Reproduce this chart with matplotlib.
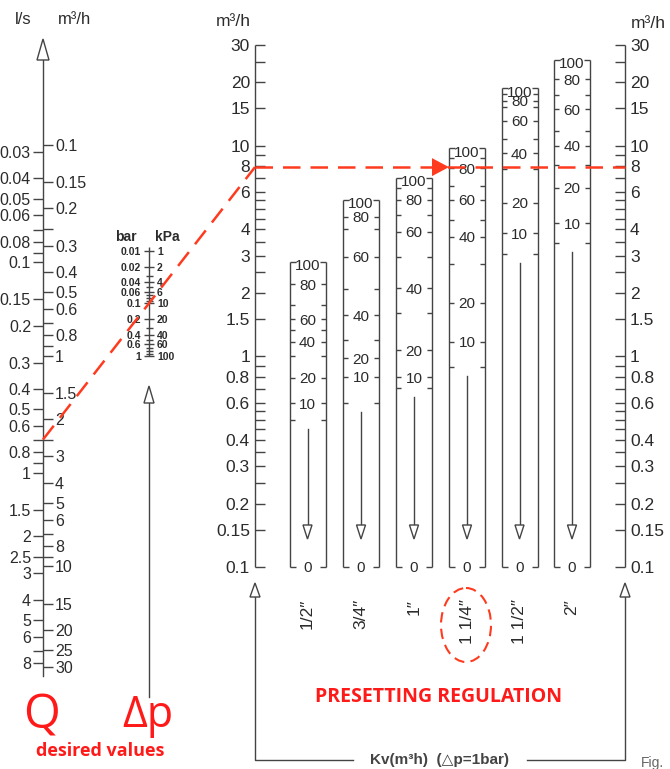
import numpy as np
import matplotlib
matplotlib.use('Agg')
import matplotlib.pyplot as plt
from matplotlib.patches import Polygon, Ellipse

plt.rcParams['font.family'] = ['Liberation Sans', 'DejaVu Sans']

# ---- values ----
kv_labeled = [30, 20, 15, 10, 8, 6, 4, 3, 2, 1.5, 1, 0.8, 0.6, 0.4, 0.3, 0.2, 0.15, 0.1]
kv_minor = [25, 9, 7, 5.5, 5, 4.5, 3.5, 2.5, 0.9, 0.7, 0.55, 0.5, 0.45, 0.35, 0.25]

q_m3h_labeled = [0.1, 0.15, 0.2, 0.3, 0.4, 0.5, 0.6, 0.8, 1, 1.5, 2, 3, 4, 5, 6, 8,
                 10, 15, 20, 25, 30]
q_m3h_minor = [0.25, 0.7, 0.9, 2.5, 7, 9]
q_ls_labeled = [0.03, 0.04, 0.05, 0.06, 0.08, 0.1, 0.15, 0.2, 0.3, 0.4, 0.5, 0.6, 0.8,
                1, 1.5, 2, 2.5, 3, 4, 5, 6, 8]
q_ls_minor = [0.07, 0.09, 0.7, 0.9, 7]

dp_bar_labeled = [0.01, 0.02, 0.04, 0.06, 0.1, 0.2, 0.4, 0.6, 1]
dp_kpa_labels = ['1', '2', '4', '6', '10', '20', '40', '60', '100']
dp_bar_minor = [0.03, 0.05, 0.07, 0.08, 0.09, 0.3, 0.5, 0.7, 0.8, 0.9]

valve_sizes = ['1/2″', '3/4″', '1″', '1 1/4″', '1 1/2″', '2″']
presets = [100, 90, 80, 70, 60, 50, 40, 30, 20, 10, 5]
preset_labeled = [100, 80, 60, 40, 20, 10]
# Kv (m3/h) of each presetting mark, per valve size (nan = no mark)
kv_half = [2.80, np.nan, 2.20, 1.75, 1.50, 1.33, 1.17, 1.00, 0.79, 0.60, 0.50]
kv_three_quarter = [5.52, np.nan, 4.60, 4.01, 2.97, 2.08, 1.57, 1.19, 0.98, 0.80, 0.60]
kv_one = [7.04, 6.31, 5.52, 4.68, 3.90, 2.95, 2.10, 1.61, 1.07, 0.795, 0.705]
kv_one_quarter = [9.71, 8.70, 7.80, 6.45, 5.52, 4.44, 3.69, 2.74, 1.80, 1.17, 0.89]
kv_one_half = [18.7, 17.5, 16.3, 15.2, 13.1, 10.8, 9.19, 7.74, 5.36, 3.84, 3.05]
kv_two = [25.5, np.nan, 20.6, 17.4, 14.9, 11.7, 9.99, 8.09, 6.31, 4.28, 3.46]
valve_kv = [kv_half, kv_three_quarter, kv_one, kv_one_quarter, kv_one_half, kv_two]

# worked example drawn in red
q_example = 2.5      # m3/h
dp_example = 0.1     # bar
kv_example = q_example / np.sqrt(dp_example)
selected_valve = 3   # 1 1/4"

# ---- layout ----
W, H = 670, 769
PX_DEC = 210.7            # pixels per decade on the flow scales
X_Q, X_DP, X_KVL, X_KVR = 43, 149, 255, 625
col_x = [307.5, 361, 414, 467, 519.5, 572]
HALF_W = 18

LINE = '#444444'
TXT = '#2b2b2b'
RED = '#ff3b1f'
RED_TXT = '#ff1a1a'
LW = 1.0

fig = plt.figure(figsize=(W / 100, H / 100), dpi=100)
fig.patch.set_facecolor('white')


def overlay(ylim, log=True):
    a = fig.add_axes([0, 0, 1, 1])
    a.set_xlim(0, W)
    if log:
        a.set_yscale('log')
    a.set_ylim(*ylim)
    a.axis('off')
    a.patch.set_alpha(0)
    return a


ax_kv = overlay((0.1 * 10 ** ((567 - H) / PX_DEC), 0.1 * 10 ** (567 / PX_DEC)))
ax_q = overlay((0.1 * 10 ** ((H - 145) / PX_DEC), 0.1 * 10 ** (-145 / PX_DEC)))
ax_dp = overlay((10 ** ((H - 356) / (PX_DEC / 4)), 10 ** (-356 / (PX_DEC / 4))))
ax_px = overlay((H, 0), log=False)


def py(ax, v):
    disp = ax.transData.transform((0, v))
    return ax_px.transData.inverted().transform(disp)[1]


def open_arrow(x, apex, base, half):
    ax_px.add_patch(Polygon([(x, apex), (x - half, base), (x + half, base)], closed=True,
                            fc='white', ec=LINE, lw=LW, zorder=3))


fmt = lambda v: '%g' % v

# ---- Q scale (left) ----
open_arrow(X_Q, 39, 60, 6)
ax_px.plot([X_Q, X_Q], [60, py(ax_q, 30) + 9], color=LINE, lw=LW)
ax_q.hlines(q_m3h_labeled + q_m3h_minor, X_Q, X_Q + 10, color=LINE, lw=LW)
ax_q.hlines(np.array(q_ls_labeled + q_ls_minor) * 3.6, X_Q - 10, X_Q, color=LINE, lw=LW)
for v in q_m3h_labeled:
    ax_q.text(X_Q + 12, v, fmt(v), ha='left', va='center_baseline', fontsize=11.5, color=TXT)
for v in q_ls_labeled:
    ax_q.text(X_Q - 12, v * 3.6, fmt(v), ha='right', va='center_baseline', fontsize=11.5,
              color=TXT)
ax_px.text(23, 20, 'l/s', ha='center', va='center', fontsize=12, color=TXT)
ax_px.text(75, 20, 'm³/h', ha='center', va='center', fontsize=12, color=TXT)

# ---- Δp scale ----
ax_dp.vlines(X_DP, 0.0085, 1.0, color=LINE, lw=LW)
ax_dp.hlines(dp_bar_labeled, X_DP - 5, X_DP + 5, color=LINE, lw=LW)
ax_dp.hlines(dp_bar_minor, X_DP - 3.5, X_DP + 3.5, color=LINE, lw=LW)
for v, k in zip(dp_bar_labeled, dp_kpa_labels):
    ax_dp.text(X_DP - 8, v, fmt(v), ha='right', va='center_baseline', fontsize=7.5,
               fontweight='bold', color=TXT)
    ax_dp.text(X_DP + 8, v, k, ha='left', va='center_baseline', fontsize=7.5,
               fontweight='bold', color=TXT)
ax_px.text(126, 237, 'bar', ha='center', va='center', fontsize=10, fontweight='bold', color=TXT)
ax_px.text(167, 237, 'kPa', ha='center', va='center', fontsize=10, fontweight='bold', color=TXT)
open_arrow(X_DP, 386, 403, 5)
ax_px.plot([X_DP, X_DP], [403, 697], color=LINE, lw=LW)

# ---- Kv scales ----
for x, d, ha, lx in [(X_KVL, 10, 'right', X_KVL - 5), (X_KVR, -10, 'left', X_KVR + 5)]:
    ax_kv.vlines(x, 0.1, 30, color=LINE, lw=LW)
    ax_kv.hlines(kv_labeled + kv_minor, min(x, x + d), max(x, x + d), color=LINE, lw=LW)
    for v in kv_labeled:
        ax_kv.text(lx, v, fmt(v), ha=ha, va='center_baseline', fontsize=12.5, color=TXT)
    open_arrow(x, 583, 597, 5)
ax_px.text(233, 22, 'm³/h', ha='center', va='center', fontsize=12.5, color=TXT)
ax_px.text(648, 24, 'm³/h', ha='center', va='center', fontsize=12.5, color=TXT)
ax_px.plot([X_KVL, X_KVL, 353], [597, 760, 760], color=LINE, lw=LW)
ax_px.plot([527, X_KVR, X_KVR], [760, 760, 597], color=LINE, lw=LW)
ax_px.text(440, 760, 'Kv(m³h)  (△p=1bar)', ha='center', va='center', fontsize=11,
           fontweight='bold', color='#444444')
ax_px.text(641, 763, 'Fig.', ha='left', va='center', fontsize=10, color='#666666')

# ---- valve presetting columns ----
for cx, kvs, name in zip(col_x, valve_kv, valve_sizes):
    kvs = np.array(kvs)
    top = kvs[0]
    xl, xr = cx - HALF_W, cx + HALF_W
    ax_kv.vlines([xl, xr], 0.1, top, color=LINE, lw=LW)
    ax_kv.hlines([top, 0.1], xl, xl + 6, color=LINE, lw=LW)
    ax_kv.hlines([top, 0.1], xr - 6, xr, color=LINE, lw=LW)
    marks = kvs[1:][~np.isnan(kvs[1:])]
    ax_kv.hlines(marks, xl, xl + 5, color=LINE, lw=LW)
    ax_kv.hlines(marks, xr - 5, xr, color=LINE, lw=LW)
    for p, v in zip(presets, kvs):
        if p in preset_labeled:
            ax_kv.annotate(str(p), (cx, v), xytext=(0, -2 if p == 100 else 0),
                           textcoords='offset points', ha='center', va='center_baseline',
                           fontsize=11, color=TXT)
    ax_kv.text(cx, 0.1, '0', ha='center', va='center_baseline', fontsize=11, color=TXT)
    y_start = py(ax_kv, np.nanmin(kvs)) + 9
    ax_px.plot([cx, cx], [y_start, 525], color=LINE, lw=LW)
    open_arrow(cx, 539, 525, 4.5)
    ax_px.text(cx, 599, name, rotation=90, ha='center', va='top', fontsize=12.5, color=TXT)

# ---- worked example (red) ----
y_q = py(ax_q, q_example)
y_kv = py(ax_kv, kv_example)
dash = dict(color=RED, lw=1.8, linestyle=(0, (7, 4)), zorder=5)
ax_px.plot([X_Q, X_KVL], [y_q, y_kv], **dash)
ax_px.plot([X_KVL, X_KVR], [y_kv, y_kv], **dash)
tip = col_x[selected_valve] - HALF_W
ax_px.add_patch(Polygon([(tip - 17, y_kv - 9), (tip - 17, y_kv + 9), (tip, y_kv)],
                        closed=True, fc=RED, ec='none', zorder=6))
ax_px.add_patch(Ellipse((col_x[selected_valve] - 1, 625), 50, 74, fill=False, ec=RED,
                        lw=1.5, linestyle=(0, (5, 3)), zorder=5))

red_font = ['Open Sans', 'DejaVu Sans']
ax_px.text(42, 716, 'Q', ha='center', va='center', fontsize=34, color=RED_TXT,
           family=red_font)
ax_px.text(148, 716, 'Δp', ha='center', va='center', fontsize=31, color=RED_TXT,
           family=red_font)
ax_px.text(100, 751, 'desired values', ha='center', va='center', fontsize=13,
           fontweight='bold', color=RED_TXT, family=red_font)
ax_px.text(439, 697, 'PRESETTING REGULATION', ha='center', va='center', fontsize=14,
           fontweight='bold', color=RED_TXT, family=red_font)

fig.savefig('out.png', dpi=100)
